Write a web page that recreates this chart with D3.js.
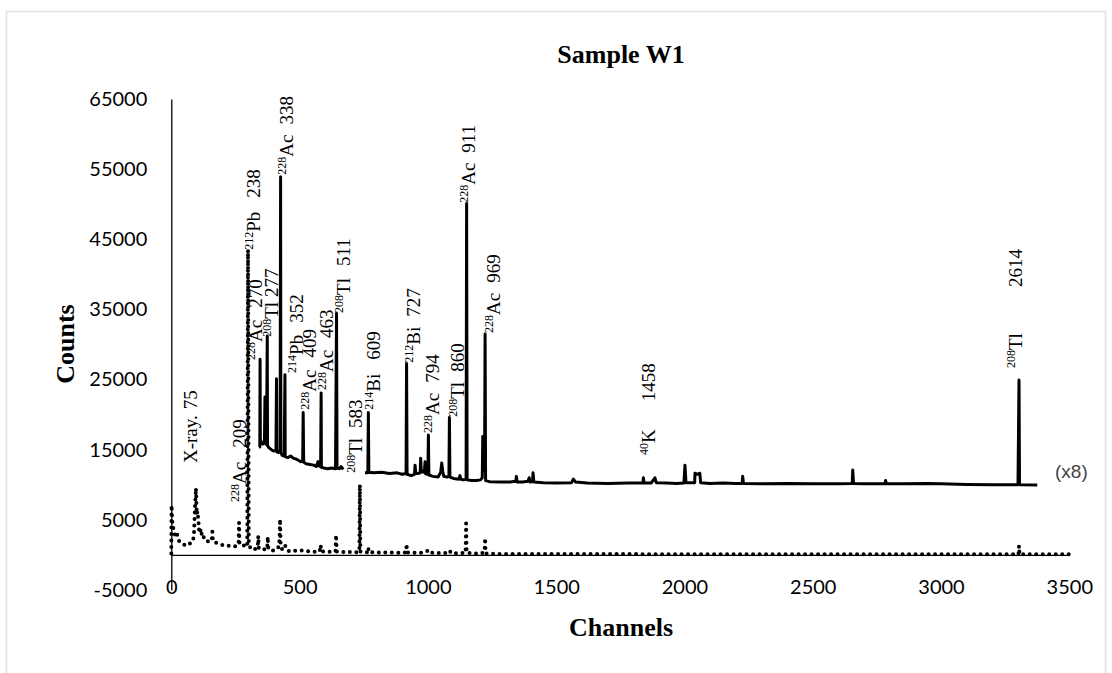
<!DOCTYPE html>
<html>
<head>
<meta charset="utf-8">
<script src="https://cdn.jsdelivr.net/npm/d3@7"></script>
<style>
  body { margin: 0; background: #fff; }
  svg { display: block; }
  .tick text { font-family: Lato, "Open Sans", sans-serif; font-size: 20px; fill: #000; }
  .serif { font-family: "Liberation Serif", "Times New Roman", serif; }
</style>
</head>
<body>
<svg id="chart" width="1112" height="673"></svg>
<script>
// axis ticks
var xTicks = [0, 500, 1000, 1500, 2000, 2500, 3000, 3500];
var yTicks = [-5000, 5000, 15000, 25000, 35000, 45000, 55000, 65000];

// full spectrum (dotted)
var dotChannel = [0, 1, 3, 6, 10, 16, 22, 30, 38, 44, 52, 60, 68, 76, 82, 88, 92, 96, 99, 102, 105, 108, 112, 116, 120, 125,
  131, 138, 146, 153, 158, 160, 162, 170, 177, 190, 203, 216, 229, 245, 255, 262, 264, 266, 275, 281, 290, 296, 299, 302,
  310, 320, 330, 337, 339, 341, 350, 359, 366, 374, 376, 378, 385, 391, 400, 410, 420, 422, 424, 426, 432, 443, 450, 463,
  480, 502, 515, 541, 560, 578, 582, 585, 600, 620, 640, 642, 645, 660, 680, 700, 720, 733, 735, 737, 750, 766, 768, 770,
  800, 830, 860, 890, 915, 917, 919, 950, 975, 1002, 1005, 1040, 1070, 1086, 1089, 1120, 1147, 1149, 1151, 1180, 1210,
  1221, 1223, 1225, 1260, 1600, 2000, 2500, 3000, 3302, 3304, 3306, 3500];
var dotCounts = [200, 7100, 5200, 4000, 3600, 2600, 3000, 2000, 1800, 1600, 1400, 1300, 1500, 1700, 1900, 2600, 6500, 9500,
  5800, 6200, 5200, 3600, 4000, 2800, 3200, 2600, 2200, 1900, 2000, 1900, 2200, 3300, 2000, 1800, 1700, 1500, 1400, 1300,
  1300, 1200, 1300, 1500, 4600, 1500, 1400, 1400, 1100, 1500, 43500, 1500, 900, 700, 900, 1200, 2700, 1000, 800, 900, 700,
  1000, 2600, 900, 700, 700, 600, 800, 1200, 2600, 5100, 1500, 800, 1400, 700, 500, 600, 650, 600, 500, 450, 500, 1400, 500,
  450, 450, 500, 2850, 500, 420, 400, 400, 380, 500, 10000, 500, 380, 400, 1000, 380, 350, 330, 330, 320, 350, 1570, 330,
  320, 300, 600, 300, 280, 270, 600, 270, 250, 300, 4500, 300, 220, 200, 500, 2400, 200, 150, 120, 110, 100, 100, 100, 1300,
  100, 100];

// expanded spectrum (x8, solid), null = gap
var solidChannel = [342, 345, 346, 347, 352, 356, 363, 365, 366, 371, 374, 375, 380, 390, 400, 408, 410, 411, 418, 424, 426,
  427, 432, 440, 443, 444, 455, 465, 475, 485, 495, 505, 512, 514, 516, 525, 540, 555, 565, 572, 575, 582, 584, 585, 595,
  610, 625, 640, 644, 646, 655, 662, 670,
  700,
  755, 766, 768, 770, 790, 820, 850, 880, 900, 915, 917, 919, 935, 948, 950, 953, 960, 970, 972, 974, 982, 987, 989, 991,
  996, 1000, 1002, 1004, 1020, 1040, 1050, 1054, 1058, 1062, 1075, 1082, 1084, 1086, 1100, 1120, 1125, 1128, 1140, 1149,
  1151, 1153, 1170, 1190, 1205, 1212, 1214, 1216, 1221, 1223, 1225, 1240, 1280, 1320, 1343, 1345, 1348, 1370, 1390, 1395,
  1398, 1408, 1410, 1413, 1450, 1500, 1560, 1567, 1575, 1620, 1700, 1780, 1838, 1840, 1843, 1870, 1885, 1890, 1930, 1970,
  1998, 2002, 2006, 2040, 2041, 2050, 2060, 2063, 2100, 2150, 2200, 2225, 2227, 2230, 2300, 2400, 2500, 2600, 2654, 2656,
  2659, 2700, 2782, 2784, 2787, 2850, 2950, 3000, 3100, 3200, 3300, 3304, 3306, 3375];
var solidCounts = [15400, 15400, 27900, 16500, 16000, 15800, 16000, 22500, 16000, 15700, 31200, 15600, 15300, 15000, 14800,
  14900, 25100, 14700, 14600, 15000, 53900, 14600, 14200, 14100, 25700, 14000, 13900, 14100, 13800, 13700, 13500, 13300,
  13400, 20300, 13200, 13000, 12900, 12800, 12600, 13300, 12700, 12600, 23100, 12500, 12400, 12300, 12400, 12300, 34450,
  12400, 12300, 12600, 12200,
  null,
  11700, 11700, 20300, 11800, 11700, 11800, 11600, 11700, 11500, 11600, 27300, 11500, 11300, 11500, 12800, 11600, 11600,
  11700, 13800, 12000, 11800, 12200, 13300, 11600, 11500, 11600, 17100, 11400, 11200, 11100, 11800, 13100, 11900, 11200,
  11100, 11200, 19600, 11100, 10900, 10800, 11300, 10800, 10700, 10800, 50100, 10700, 10600, 10600, 10700, 11000, 16900,
  12000, 12500, 31500, 10600, 10450, 10400, 10400, 10500, 11200, 10400, 10400, 10500, 11000, 10400, 10450, 11700, 10400,
  10300, 10250, 10300, 10800, 10400, 10250, 10200, 10250, 10250, 11000, 10250, 10250, 11000, 10300, 10250, 10200, 10250,
  12800, 10300, 10300, 11650, 11500, 11650, 10300, 10200, 10250, 10200, 10200, 11200, 10200, 10150, 10200, 10150, 10150,
  10200, 12100, 10200, 10150, 10150, 10600, 10150, 10150, 10200, 10150, 10050, 10000, 10000, 24950, 10000, 9980];

// peak labels: mass number, element, energy (keV), where the label starts (channel, counts)
var peakMass = ["", "228", "212", "228", "208", "228", "214", "228", "228", "208", "208", "214", "212", "228", "208", "228", "228", "40", "208"];
var peakElement = ["X-ray.", "Ac", "Pb", "Ac", "Tl", "Ac", "Pb", "Ac", "Ac", "Tl", "Tl", "Bi", "Bi", "Ac", "Tl", "Ac", "Ac", "K", "Tl"];
var peakEnergy = ["75", "209", "238", "270", "277", "338", "352", "409", "463", "511", "583", "609", "727", "794", "860", "911", "969", "1458", "2614"];
var peakLabelChannel = [100, 291, 344, 353, 416, 473, 512, 564, 630, 696, 743, 813, 969, 1043, 1141, 1184, 1281, 1885, 3316];
var peakLabelCounts = [13100, 7550, 43500, 27800, 31100, 54200, 25950, 20700, 23500, 34500, 11700, 20700, 27400, 17400, 19700, 50200, 31650, 14250, 26650];
// space between element and energy
var peakGap = [6, 14, 14, 12, 5, 10, 12, 12, 12, 12, 10, 14, 10, 10, 10, 10, 10, 28, 46];

var svg = d3.select("#chart");

// outer frame
svg.append("rect")
  .attr("x", 6.5).attr("y", 11.5)
  .attr("width", 1099).attr("height", 700)
  .attr("fill", "none")
  .attr("stroke", "#dde2ea")
  .attr("stroke-width", 1.5);

var x = d3.scaleLinear().domain([0, 3500]).range([171.3, 1069.3]);
var y = d3.scaleLinear().domain([-5000, 65000]).range([590, 99]);

// y axis
var yAxis = svg.append("g")
  .attr("transform", "translate(" + x(0) + ",0)")
  .call(d3.axisLeft(y).tickValues(yTicks).tickSize(0).tickPadding(24).tickFormat(function (d) { return String(d); }));
yAxis.select(".domain").attr("stroke", "#000").attr("stroke-width", 1.3);

// x axis crosses at 0, labels sit low
var xAxis = svg.append("g")
  .attr("transform", "translate(0," + y(0) + ")")
  .call(d3.axisBottom(x).tickValues(xTicks).tickSize(0).tickPadding(y(-5000) - y(0) - 10).tickFormat(function (d) { return String(d); }));
xAxis.select(".domain").attr("stroke", "#000").attr("stroke-width", 1.2);

// dotted series
var dots = dotChannel.map(function (c, i) { return [c, dotCounts[i]]; });
svg.append("path")
  .datum(dots)
  .attr("fill", "none")
  .attr("stroke", "#000")
  .attr("stroke-width", 4)
  .attr("stroke-linecap", "round")
  .attr("stroke-dasharray", "0,6.5")
  .attr("d", d3.line().x(function (d) { return x(d[0]); }).y(function (d) { return y(d[1]); }));

// solid series
var solid = solidChannel.map(function (c, i) { return [c, solidCounts[i]]; });
svg.append("path")
  .datum(solid)
  .attr("fill", "none")
  .attr("stroke", "#000")
  .attr("stroke-width", 3)
  .attr("stroke-linejoin", "round")
  .attr("d", d3.line()
    .defined(function (d) { return d[1] != null; })
    .x(function (d) { return x(d[0]); })
    .y(function (d) { return y(d[1]); }));

// peak labels, rotated
var labels = svg.append("g").attr("class", "serif");
peakEnergy.forEach(function (e, i) {
  var t = labels.append("text")
    .attr("transform", "translate(" + x(peakLabelChannel[i]) + "," + y(peakLabelCounts[i]) + ") rotate(-90)")
    .attr("font-size", 19)
    .attr("fill", "#000");
  if (peakMass[i]) {
    t.append("tspan").attr("font-size", 12).attr("dy", -7).text(peakMass[i]);
    t.append("tspan").attr("dy", 7).text(peakElement[i]);
  } else {
    t.append("tspan").text(peakElement[i]);
  }
  t.append("tspan").attr("dx", peakGap[i]).text(e);
});

// (x8) marker
svg.append("text")
  .attr("x", 1055).attr("y", 478)
  .attr("font-family", "'Liberation Sans', Arial, sans-serif")
  .attr("font-size", 19)
  .attr("fill", "#444")
  .text("(x8)");

// titles
svg.append("text")
  .attr("class", "serif")
  .attr("x", 621).attr("y", 63)
  .attr("text-anchor", "middle")
  .attr("font-weight", "bold")
  .attr("font-size", 26)
  .text("Sample W1");

svg.append("text")
  .attr("class", "serif")
  .attr("x", 621).attr("y", 636)
  .attr("text-anchor", "middle")
  .attr("font-weight", "bold")
  .attr("font-size", 26)
  .text("Channels");

svg.append("text")
  .attr("class", "serif")
  .attr("transform", "translate(74,344) rotate(-90)")
  .attr("text-anchor", "middle")
  .attr("font-weight", "bold")
  .attr("font-size", 26)
  .text("Counts");
</script>
</body>
</html>
